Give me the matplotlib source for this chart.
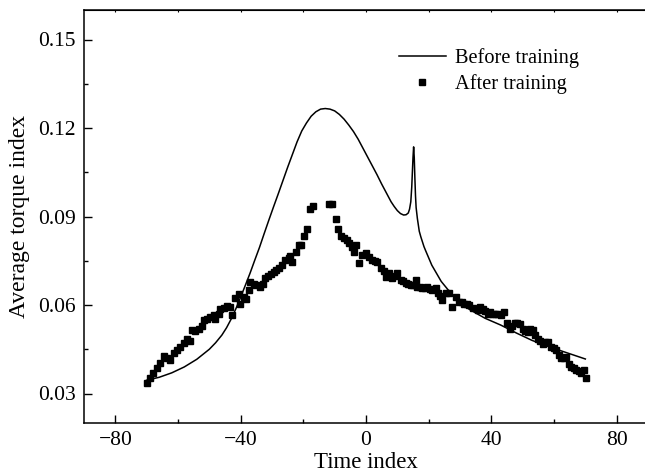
import numpy as np
import matplotlib
matplotlib.use("Agg")
import matplotlib.pyplot as plt
from matplotlib.ticker import MultipleLocator, FormatStrFormatter

plt.rcParams['font.family'] = ['Liberation Serif', 'DejaVu Serif']

# "Before training" curve
before_x = [-70, -66, -62, -58, -54, -50, -48, -46, -44.5, -43, -41.5, -40,
            -38.5, -37, -35.5, -34, -32.5,
            -31, -29.5, -28, -26.5, -25, -23.5, -22, -20.5, -19, -17.5, -16,
            -14.5, -13, -11.5, -10, -8.5, -7, -5.5, -4, -2.5, -1, 0.5, 2, 3.5,
            5, 6.5, 8, 9, 10, 11, 12, 12.8, 13.5, 13.9, 14.3, 14.6, 14.8, 15.0,
            15.2, 15.4, 15.6, 15.8, 16.0, 16.4, 17, 17.5, 18.5, 19, 21, 24, 28,
            33, 38, 43, 48, 53, 58, 63, 70]
before_y = [0.0345, 0.0355, 0.0370, 0.0390, 0.0416, 0.0450, 0.0472, 0.0498,
            0.0523, 0.0553, 0.0588, 0.0627, 0.0667, 0.0708, 0.0752, 0.0795,
            0.0842, 0.0888, 0.0933, 0.0977,
            0.1022, 0.1067, 0.1110, 0.1153, 0.1190, 0.1217, 0.1240, 0.1255,
            0.1264, 0.1266, 0.1264, 0.1258, 0.1246, 0.1230, 0.1210, 0.1188,
            0.1162, 0.1132, 0.1102, 0.1072, 0.1042, 0.1010, 0.0980, 0.0950,
            0.0934, 0.0920, 0.0910, 0.0905, 0.0906, 0.0912, 0.0925, 0.0950,
            0.1000, 0.1050, 0.1100, 0.1136, 0.1100, 0.1030, 0.0970, 0.0930,
            0.0893, 0.0850, 0.0831, 0.0798, 0.0785, 0.0735, 0.0680, 0.0628,
            0.0585, 0.0555, 0.0532, 0.0505, 0.0480, 0.0460, 0.0442, 0.0417]

# "After training" samples
after_x = [-70.0, -69.0, -67.9, -66.8, -65.7, -64.6, -63.5, -62.5, -61.4, -60.4,
           -59.3, -58.2, -57.2, -56.1, -55.6, -54.5, -53.4, -52.3, -51.8, -50.7,
           -49.7, -48.6, -48.1, -47.0, -46.5, -45.4, -44.4, -43.3, -42.8, -41.7,
           -40.6, -40.1, -39.0, -38.2, -37.4, -36.9, -35.8, -35.0, -33.9, -32.8,
           -32.3, -31.2, -30.2, -29.4, -28.6, -27.8, -26.8, -25.7, -24.7, -24.1,
           -23.6, -22.5, -21.4, -20.7, -19.8, -18.8, -17.9, -16.8, -11.8, -10.8,
           -9.7, -9.0, -7.9, -7.0, -6.0, -5.4, -4.4, -3.8, -3.3, -2.2,
           -1.2, -0.1, 1.0, 2.0, 3.0, 3.6, 4.7, 5.7, 6.3, 7.4,
           8.4, 9.3, 10.0, 11.1, 11.9, 12.7, 13.5, 14.3, 15.1, 15.9,
           16.4, 17.2, 18.0, 18.8, 19.6, 20.4, 21.2, 22.3, 22.9, 23.6,
           24.4, 25.5, 26.6, 27.6, 28.7, 29.8, 30.6, 31.4, 32.2, 33.0,
           34.0, 35.6, 36.4, 37.2, 38.0, 38.8, 39.6, 40.4, 41.2, 42.0,
           43.2, 44.2, 45.0, 45.8, 46.6, 47.4, 48.2, 49.0, 50.0, 50.8,
           51.6, 52.4, 53.2, 53.8, 54.8, 55.6, 56.4, 57.2, 58.0, 59.1,
           59.9, 60.7, 61.5, 62.3, 63.1, 63.9, 64.7, 65.5, 66.3, 67.1,
           67.9, 68.7, 69.5, 70.3]
after_y = [0.0334, 0.0351, 0.0368, 0.0385, 0.0402, 0.0428, 0.0420, 0.0415, 0.0436, 0.0447,
           0.0458, 0.0470, 0.0486, 0.0478, 0.0515, 0.0512, 0.0520, 0.0530, 0.0550, 0.0554,
           0.0560, 0.0565, 0.0554, 0.0570, 0.0585, 0.0590, 0.0596, 0.0594, 0.0565, 0.0625,
           0.0636, 0.0605, 0.0628, 0.0622, 0.0650, 0.0678, 0.0672, 0.0667, 0.0661, 0.0670,
           0.0692, 0.0700, 0.0704, 0.0712, 0.0718, 0.0724, 0.0735, 0.0752, 0.0760, 0.0765,
           0.0746, 0.0780, 0.0803, 0.0803, 0.0833, 0.0859, 0.0925, 0.0936, 0.0942, 0.0942,
           0.0893, 0.0856, 0.0833, 0.0828, 0.0820, 0.0811, 0.0797, 0.0780, 0.0803, 0.0741,
           0.0770, 0.0775, 0.0763, 0.0752, 0.0750, 0.0746, 0.0724, 0.0715, 0.0695, 0.0707,
           0.0690, 0.0700, 0.0709, 0.0684, 0.0680, 0.0673, 0.0670, 0.0667, 0.0668, 0.0686,
           0.0661, 0.0660, 0.0656, 0.0658, 0.0661, 0.0655, 0.0650, 0.0656, 0.0639, 0.0630,
           0.0616, 0.0639, 0.0641, 0.0594, 0.0627, 0.0611, 0.0610, 0.0605, 0.0602, 0.0599,
           0.0590, 0.0582, 0.0592, 0.0588, 0.0580, 0.0571, 0.0575, 0.0571, 0.0568, 0.0571,
           0.0566, 0.0577, 0.0540, 0.0520, 0.0530, 0.0539, 0.0540, 0.0537, 0.0517, 0.0512,
           0.0509, 0.0520, 0.0515, 0.0498, 0.0486, 0.0478, 0.0469, 0.0476, 0.0475, 0.0458,
           0.0455, 0.0447, 0.0430, 0.0419, 0.0422, 0.0424, 0.0400, 0.0390, 0.0385, 0.0379,
           0.0375, 0.0368, 0.0380, 0.0351]

x_ticks = [-80, -40, 0, 40, 80]
y_ticks = [0.03, 0.06, 0.09, 0.12, 0.15]

fig = plt.figure(figsize=(6.45, 4.76), dpi=100)
ax = fig.add_axes([84 / 645, 53 / 476, (648 - 84) / 645, (466 - 53) / 476])

ax.plot(before_x, before_y, color='black', linewidth=1.1, label='Before training')
ax.plot(after_x, after_y, linestyle='none', marker='s', markersize=4.3,
        color='black', label='After training')

ax.set_xlim(-90, 90)
ax.set_ylim(0.02, 0.16)
ax.set_xticks(x_ticks)
ax.set_yticks(y_ticks)
ax.xaxis.set_minor_locator(MultipleLocator(20))
ax.yaxis.set_minor_locator(MultipleLocator(0.015))
ax.yaxis.set_major_formatter(FormatStrFormatter('%.2f'))
ax.tick_params(which='major', direction='in', length=5.5, width=1.0, labelsize=15.5, pad=6)
ax.tick_params(which='minor', direction='in', length=3, width=1.0)
ax.spines['right'].set_visible(False)
for s in ['left', 'bottom', 'top']:
    ax.spines[s].set_linewidth(1.1)

# small marks along the top frame
top = ax.secondary_xaxis('top')
top.set_xticks([-80, -60, -40, -20, 0, 20, 40, 60, 80])
top.tick_params(direction='in', length=1.5, labeltop=False)

ax.set_xlabel('Time index', fontsize=16.5, labelpad=1)
ax.set_ylabel('Average torque index', fontsize=17, labelpad=6)

ax.legend(loc='upper left', bbox_to_anchor=(399 / 645, 1 - 48 / 476),
          bbox_transform=fig.transFigure, frameon=False, fontsize=14.7,
          handlelength=2.3, handletextpad=0.45, labelspacing=0.3,
          borderpad=0, borderaxespad=0)

fig.savefig('out.png', dpi=100)
